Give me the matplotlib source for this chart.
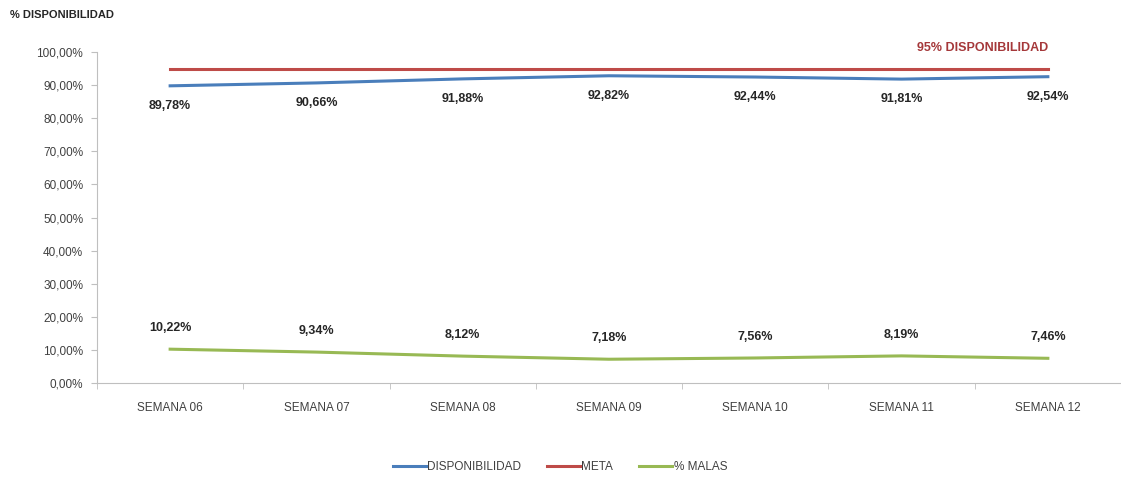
import matplotlib.pyplot as plt
import numpy as np

semanas = ["SEMANA 06", "SEMANA 07", "SEMANA 08", "SEMANA 09",
           "SEMANA 10", "SEMANA 11", "SEMANA 12"]
disponibilidad = [89.78, 90.66, 91.88, 92.82, 92.44, 91.81, 92.54]
meta = [95, 95, 95, 95, 95, 95, 95]
malas = [10.22, 9.34, 8.12, 7.18, 7.56, 8.19, 7.46]
yticks = np.arange(0, 101, 10)

plt.rcParams['font.family'] = ['Liberation Sans', 'DejaVu Sans']

fig = plt.figure(figsize=(11.21, 4.8), dpi=100, facecolor="w")
ax = fig.add_axes([97 / 1121, 1 - 383 / 480, 1 - 97 / 1121, (383 - 52) / 480])

x = np.arange(len(semanas))
ax.plot(x, disponibilidad, color="#4A7EBB", lw=2.2, label="DISPONIBILIDAD")
ax.plot(x, meta, color="#BE4B48", lw=2.2, label="META")
ax.plot(x, malas, color="#98B954", lw=2.2, label="% MALAS")

fmt = lambda v: f"{v:.2f}%".replace(".", ",")
for xi, v in zip(x, disponibilidad):
    ax.annotate(fmt(v), (xi, v), xytext=(0, -20), textcoords="offset pixels",
                ha="center", va="center", fontsize=9, fontweight="bold", color="#262626")
for xi, v in zip(x, malas):
    ax.annotate(fmt(v), (xi, v), xytext=(0, 21), textcoords="offset pixels",
                ha="center", va="center", fontsize=9, fontweight="bold", color="#262626")
ax.annotate("95% DISPONIBILIDAD", (x[-1], meta[-1]), xytext=(0, 21), textcoords="offset pixels",
            ha="right", va="center", fontsize=9, fontweight="bold", color="#A5383A")

ax.set_xlim(-0.5, len(semanas) - 0.5)
ax.set_ylim(0, 100)
ax.set_yticks(yticks)
ax.set_yticklabels([f"{v:.2f}%".replace(".", ",") for v in yticks], fontsize=8.5, color="#404040")
ax.set_xticks(x)
ax.set_xticklabels(semanas, fontsize=8.5, color="#404040")
ax.set_xticks(np.arange(-0.5, len(semanas), 1), minor=True)
ax.tick_params(axis="x", which="major", length=0, pad=14)
ax.tick_params(axis="x", which="minor", length=4, color="#BFBFBF")
ax.tick_params(axis="y", length=4, color="#BFBFBF", pad=6)
for s in ["top", "right"]:
    ax.spines[s].set_visible(False)
for s in ["left", "bottom"]:
    ax.spines[s].set_color("#BFBFBF")

fig.text(10 / 1121, 1 - 15 / 480, "% DISPONIBILIDAD", fontsize=8, fontweight="bold",
         color="#262626", va="center")

fig.legend(loc="center", bbox_to_anchor=(560 / 1121, 1 - 467 / 480), ncol=3, frameon=False,
           fontsize=8.5, handlelength=2.8, handletextpad=0.1, columnspacing=2.2,
           labelcolor="#404040")

fig.savefig("out.png", dpi=100)
